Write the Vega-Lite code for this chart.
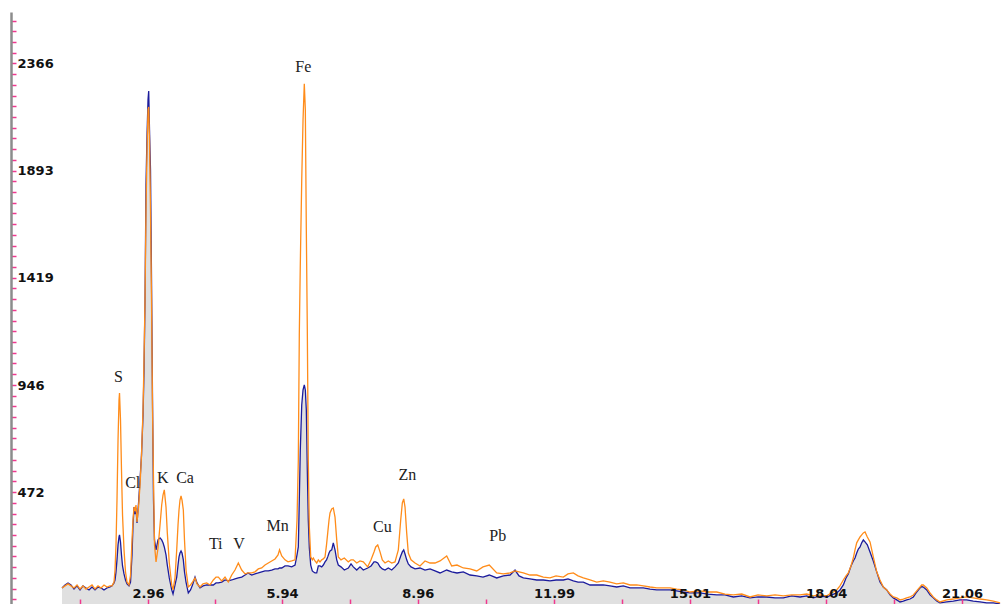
{
  "$schema": "https://vega.github.io/schema/vega-lite/v6.json",
  "width": 992,
  "height": 592,
  "autosize": {"type": "none"},
  "padding": {"left": 11, "top": 12, "right": 0, "bottom": 0},
  "background": "white",
  "config": {"view": {"stroke": null}},
  "datasets": {
    "spec": [
      {"e":1.047,"o":50,"b":50},{"e":1.114,"o":59,"b":63},{"e":1.181,"o":68,"b":72},{"e":1.247,"o":59,"b":63},
      {"e":1.314,"o":50,"b":45},{"e":1.381,"o":63,"b":59},{"e":1.448,"o":45,"b":41},{"e":1.514,"o":59,"b":59},
      {"e":1.581,"o":45,"b":50},{"e":1.648,"o":54,"b":41},{"e":1.715,"o":63,"b":54},{"e":1.781,"o":45,"b":41},
      {"e":1.848,"o":59,"b":54},{"e":1.915,"o":50,"b":50},{"e":1.981,"o":63,"b":41},{"e":2.048,"o":54,"b":50},
      {"e":2.115,"o":59,"b":54},{"e":2.159,"o":59,"b":59},{"e":2.204,"o":76,"b":72},{"e":2.226,"o":129,"b":85},
      {"e":2.248,"o":240,"b":121},{"e":2.270,"o":438,"b":174},{"e":2.293,"o":703,"b":240},{"e":2.315,"o":880,"b":275},
      {"e":2.326,"o":911,"b":284},{"e":2.348,"o":792,"b":253},{"e":2.370,"o":571,"b":196},{"e":2.393,"o":372,"b":147},
      {"e":2.426,"o":218,"b":112},{"e":2.459,"o":121,"b":85},{"e":2.493,"o":76,"b":68},{"e":2.537,"o":63,"b":59},
      {"e":2.571,"o":107,"b":76},{"e":2.604,"o":262,"b":196},{"e":2.626,"o":350,"b":328},{"e":2.649,"o":407,"b":407},
      {"e":2.671,"o":394,"b":376},{"e":2.693,"o":416,"b":403},{"e":2.715,"o":341,"b":337},{"e":2.749,"o":407,"b":425},
      {"e":2.782,"o":505,"b":527},{"e":2.815,"o":637,"b":637},{"e":2.849,"o":836,"b":814},{"e":2.871,"o":1057,"b":1012},
      {"e":2.893,"o":1321,"b":1321},{"e":2.915,"o":1719,"b":1829},{"e":2.938,"o":1984,"b":2051},{"e":2.960,"o":2161,"b":2205},
      {"e":2.975,"o":2174,"b":2244},{"e":2.993,"o":2028,"b":2073},{"e":3.015,"o":1719,"b":1896},{"e":3.038,"o":1321,"b":1410},
      {"e":3.060,"o":836,"b":880},{"e":3.082,"o":527,"b":438},{"e":3.104,"o":240,"b":262},{"e":3.138,"o":165,"b":218},
      {"e":3.182,"o":226,"b":262},{"e":3.227,"o":328,"b":271},{"e":3.264,"o":416,"b":262},{"e":3.293,"o":460,"b":249},
      {"e":3.322,"o":483,"b":231},{"e":3.360,"o":407,"b":196},{"e":3.389,"o":293,"b":151},{"e":3.433,"o":160,"b":94},
      {"e":3.487,"o":63,"b":41},{"e":3.516,"o":41,"b":23},{"e":3.560,"o":94,"b":63},{"e":3.598,"o":218,"b":98},
      {"e":3.627,"o":328,"b":151},{"e":3.649,"o":394,"b":187},{"e":3.671,"o":438,"b":204},{"e":3.694,"o":456,"b":213},
      {"e":3.716,"o":438,"b":204},{"e":3.745,"o":394,"b":174},{"e":3.771,"o":262,"b":121},{"e":3.805,"o":129,"b":76},
      {"e":3.856,"o":54,"b":28},{"e":3.905,"o":63,"b":41},{"e":3.949,"o":76,"b":63},{"e":4.005,"o":94,"b":98},
      {"e":4.049,"o":68,"b":72},{"e":4.116,"o":54,"b":50},{"e":4.183,"o":68,"b":59},{"e":4.265,"o":72,"b":63},
      {"e":4.338,"o":63,"b":63},{"e":4.412,"o":85,"b":63},{"e":4.472,"o":98,"b":72},{"e":4.523,"o":98,"b":72},
      {"e":4.599,"o":81,"b":76},{"e":4.672,"o":98,"b":85},{"e":4.745,"o":76,"b":81},{"e":4.821,"o":107,"b":85},
      {"e":4.894,"o":129,"b":90},{"e":4.968,"o":160,"b":94},{"e":5.043,"o":129,"b":98},{"e":5.117,"o":112,"b":107},
      {"e":5.183,"o":116,"b":116},{"e":5.266,"o":116,"b":107},{"e":5.339,"o":121,"b":112},{"e":5.412,"o":134,"b":116},
      {"e":5.488,"o":138,"b":121},{"e":5.561,"o":151,"b":125},{"e":5.635,"o":160,"b":125},{"e":5.710,"o":169,"b":129},
      {"e":5.784,"o":178,"b":134},{"e":5.851,"o":196,"b":134},{"e":5.884,"o":218,"b":138},{"e":5.933,"o":191,"b":138},
      {"e":6.006,"o":174,"b":147},{"e":6.073,"o":165,"b":147},{"e":6.155,"o":169,"b":143},{"e":6.229,"o":174,"b":151},
      {"e":6.273,"o":350,"b":196},{"e":6.302,"o":615,"b":231},{"e":6.324,"o":1167,"b":438},{"e":6.346,"o":1476,"b":659},
      {"e":6.378,"o":1851,"b":858},{"e":6.407,"o":2117,"b":924},{"e":6.435,"o":2276,"b":946},{"e":6.458,"o":2161,"b":924},
      {"e":6.480,"o":1631,"b":836},{"e":6.502,"o":1189,"b":571},{"e":6.524,"o":615,"b":350},{"e":6.547,"o":319,"b":226},
      {"e":6.578,"o":187,"b":151},{"e":6.613,"o":174,"b":125},{"e":6.636,"o":182,"b":121},{"e":6.673,"o":169,"b":116},
      {"e":6.711,"o":160,"b":116},{"e":6.747,"o":174,"b":147},{"e":6.784,"o":165,"b":147},{"e":6.822,"o":174,"b":143},
      {"e":6.858,"o":178,"b":151},{"e":6.896,"o":187,"b":165},{"e":6.929,"o":240,"b":174},{"e":6.956,"o":293,"b":187},
      {"e":6.985,"o":350,"b":204},{"e":7.007,"o":381,"b":213},{"e":7.045,"o":399,"b":218},{"e":7.080,"o":403,"b":249},
      {"e":7.118,"o":363,"b":218},{"e":7.156,"o":262,"b":174},{"e":7.191,"o":187,"b":151},{"e":7.251,"o":174,"b":143},
      {"e":7.325,"o":182,"b":129},{"e":7.414,"o":165,"b":138},{"e":7.474,"o":174,"b":156},{"e":7.525,"o":174,"b":143},
      {"e":7.601,"o":160,"b":129},{"e":7.674,"o":169,"b":143},{"e":7.747,"o":165,"b":129},{"e":7.845,"o":143,"b":138},
      {"e":7.919,"o":174,"b":147},{"e":7.985,"o":209,"b":165},{"e":8.023,"o":231,"b":165},{"e":8.068,"o":240,"b":160},
      {"e":8.119,"o":209,"b":143},{"e":8.170,"o":174,"b":134},{"e":8.230,"o":160,"b":129},{"e":8.303,"o":169,"b":138},
      {"e":8.379,"o":160,"b":129},{"e":8.452,"o":165,"b":143},{"e":8.526,"o":218,"b":160},{"e":8.579,"o":350,"b":191},
      {"e":8.615,"o":425,"b":209},{"e":8.646,"o":443,"b":218},{"e":8.675,"o":407,"b":200},{"e":8.712,"o":293,"b":174},
      {"e":8.748,"o":204,"b":156},{"e":8.808,"o":174,"b":143},{"e":8.897,"o":160,"b":134},{"e":9.008,"o":147,"b":138},
      {"e":9.119,"o":169,"b":129},{"e":9.231,"o":160,"b":134},{"e":9.342,"o":160,"b":125},{"e":9.453,"o":169,"b":116},
      {"e":9.602,"o":191,"b":129},{"e":9.713,"o":147,"b":121},{"e":9.831,"o":151,"b":116},{"e":9.971,"o":138,"b":121},
      {"e":10.120,"o":134,"b":107},{"e":10.269,"o":125,"b":103},{"e":10.409,"o":143,"b":98},{"e":10.549,"o":151,"b":107},
      {"e":10.714,"o":116,"b":94},{"e":10.861,"o":112,"b":103},{"e":11.010,"o":116,"b":107},{"e":11.121,"o":125,"b":129},
      {"e":11.210,"o":121,"b":103},{"e":11.305,"o":116,"b":94},{"e":11.454,"o":107,"b":90},{"e":11.603,"o":107,"b":85},
      {"e":11.750,"o":98,"b":85},{"e":11.899,"o":94,"b":81},{"e":12.033,"o":103,"b":85},{"e":12.195,"o":98,"b":85},
      {"e":12.299,"o":112,"b":90},{"e":12.417,"o":116,"b":81},{"e":12.522,"o":103,"b":76},{"e":12.640,"o":94,"b":76},
      {"e":12.789,"o":85,"b":63},{"e":12.938,"o":76,"b":63},{"e":13.084,"o":81,"b":63},{"e":13.233,"o":76,"b":59},
      {"e":13.382,"o":68,"b":54},{"e":13.529,"o":72,"b":59},{"e":13.678,"o":63,"b":50},{"e":13.827,"o":63,"b":50},
      {"e":13.974,"o":59,"b":50},{"e":14.123,"o":54,"b":45},{"e":14.272,"o":50,"b":41},{"e":14.418,"o":50,"b":41},
      {"e":14.567,"o":50,"b":41},{"e":14.716,"o":45,"b":37},{"e":14.863,"o":41,"b":32},{"e":15.012,"o":32,"b":28},
      {"e":15.234,"o":37,"b":28},{"e":15.412,"o":32,"b":23},{"e":15.606,"o":32,"b":19},{"e":15.790,"o":23,"b":19},
      {"e":15.975,"o":19,"b":10},{"e":16.162,"o":23,"b":15},{"e":16.347,"o":10,"b":6},{"e":16.525,"o":19,"b":10},
      {"e":16.718,"o":15,"b":10},{"e":16.903,"o":19,"b":6},{"e":17.087,"o":15,"b":6},{"e":17.274,"o":19,"b":15},
      {"e":17.459,"o":19,"b":10},{"e":17.608,"o":23,"b":15},{"e":17.754,"o":15,"b":6},{"e":17.903,"o":19,"b":15},
      {"e":18.052,"o":15,"b":10},{"e":18.163,"o":28,"b":19},{"e":18.274,"o":41,"b":28},{"e":18.347,"o":59,"b":41},
      {"e":18.421,"o":85,"b":63},{"e":18.481,"o":103,"b":94},{"e":18.532,"o":116,"b":112},{"e":18.592,"o":147,"b":147},
      {"e":18.643,"o":182,"b":169},{"e":18.681,"o":218,"b":182},{"e":18.719,"o":249,"b":204},{"e":18.755,"o":262,"b":222},
      {"e":18.793,"o":275,"b":231},{"e":18.830,"o":284,"b":249},{"e":18.866,"o":293,"b":262},{"e":18.904,"o":297,"b":253},
      {"e":18.955,"o":275,"b":240},{"e":19.015,"o":253,"b":209},{"e":19.088,"o":187,"b":169},{"e":19.164,"o":121,"b":121},
      {"e":19.237,"o":85,"b":76},{"e":19.311,"o":54,"b":54},{"e":19.386,"o":41,"b":41},{"e":19.460,"o":23,"b":19},
      {"e":19.533,"o":10,"b":6},{"e":19.609,"o":6,"b":-3},{"e":19.682,"o":-3,"b":-12},{"e":19.755,"o":1,"b":-8},
      {"e":19.831,"o":6,"b":-3},{"e":19.904,"o":10,"b":1},{"e":19.978,"o":19,"b":10},{"e":20.053,"o":37,"b":32},
      {"e":20.127,"o":54,"b":50},{"e":20.164,"o":63,"b":56},{"e":20.200,"o":63,"b":54},{"e":20.276,"o":50,"b":41},
      {"e":20.349,"o":28,"b":19},{"e":20.422,"o":10,"b":6},{"e":20.498,"o":-3,"b":-8},{"e":20.571,"o":-12,"b":-16},
      {"e":20.720,"o":-3,"b":-12},{"e":20.867,"o":1,"b":-8},{"e":21.016,"o":6,"b":-3},{"e":21.163,"o":10,"b":-3},
      {"e":21.312,"o":6,"b":-8},{"e":21.460,"o":1,"b":-12},{"e":21.609,"o":-3,"b":-16},{"e":21.757,"o":-8,"b":-16},
      {"e":21.907,"o":-16,"b":-21}
    ],
    "labels": [
      {"e":2.30,"b":983,"t":"S"},{"e":2.62,"b":515,"t":"Cl"},{"e":3.287,"b":537,"t":"K"},
      {"e":3.783,"b":537,"t":"Ca"},{"e":4.465,"b":243,"t":"Ti"},{"e":4.983,"b":243,"t":"V"},
      {"e":5.844,"b":325,"t":"Mn"},{"e":6.413,"b":2351,"t":"Fe"},{"e":8.170,"b":318,"t":"Cu"},
      {"e":8.726,"b":549,"t":"Zn"},{"e":10.736,"b":279,"t":"Pb"}
    ]
  },
  "encoding": {
    "x": {
      "field": "e", "type": "quantitative",
      "scale": {"domain": [-0.087, 21.972], "nice": false, "zero": false},
      "axis": {
        "title": null, "orient": "bottom", "offset": -5, "domain": false, "grid": false,
        "ticks": true, "tickColor": "#f0388f", "tickSize": 5, "tickWidth": 1.5,
        "values": [1.45, 2.96, 4.45, 5.94, 7.45, 8.96, 10.475, 11.99, 13.5, 15.01, 16.525, 18.04, 19.55, 21.06],
        "labelExpr": "indexof([2.96,5.94,8.96,11.99,15.01,18.04,21.06], datum.value) >= 0 ? format(datum.value, '.2f') : ''",
        "labelPadding": -7, "labelBaseline": "alphabetic", "labelFont": "DejaVu Sans", "labelFontSize": 13,
        "labelFontWeight": "bold", "labelColor": "#111111", "labelOverlap": false, "labelFlush": false, "labelBound": false,
        "zindex": 1
      }
    },
    "y": {
      "field": "b", "type": "quantitative",
      "scale": {"domain": [-21, 2593], "nice": false, "zero": false},
      "axis": {
        "title": null, "orient": "left", "domain": true, "domainColor": "#8c8c8c", "domainWidth": 2.5, "grid": false,
        "ticks": true, "tickColor": "#f0388f", "tickSize": -5, "tickWidth": 1.5,
        "values": [0, 47.3, 94.6, 142, 189.3, 236.6, 283.9, 331.2, 378.6, 425.9, 472, 520.5, 567.8, 615.2, 662.5, 709.8, 757.1, 804.4, 851.8, 899.1, 946, 993.7, 1041, 1088.4, 1135.7, 1183, 1230.3, 1277.6, 1325, 1372.3, 1419, 1466.9, 1514.2, 1561.6, 1608.9, 1656.2, 1703.5, 1750.8, 1798.2, 1845.5, 1893, 1940.1, 1987.4, 2034.8, 2082.1, 2129.4, 2176.7, 2224, 2271.4, 2318.7, 2366, 2413.3, 2460.6, 2508, 2555.3],
        "labelExpr": "indexof([472,946,1419,1893,2366], datum.value) >= 0 ? format(datum.value, 'd') : ''",
        "labelAlign": "left", "labelPadding": -1, "labelFont": "DejaVu Sans", "labelFontSize": 13,
        "labelFontWeight": "bold", "labelColor": "#111111", "labelOverlap": false, "labelBound": false,
        "zindex": 1
      }
    }
  },
  "layer": [
    {
      "data": {"name": "spec"},
      "mark": {"type": "area", "color": "#e0e0e0", "clip": true},
      "encoding": {"y2": {"datum": -21}}
    },
    {
      "data": {"name": "spec"},
      "mark": {"type": "line", "color": "#1c1c9c", "strokeWidth": 1.3, "clip": true},
      "encoding": {}
    },
    {
      "data": {"name": "spec"},
      "mark": {"type": "line", "color": "#ff8c1a", "strokeWidth": 1.3, "clip": true},
      "encoding": {"y": {"field": "o", "type": "quantitative"}}
    },
    {
      "data": {"name": "labels"},
      "mark": {"type": "text", "font": "Liberation Serif", "fontSize": 16, "color": "#222222", "baseline": "middle", "align": "center"},
      "encoding": {"text": {"field": "t"}}
    }
  ]
}
